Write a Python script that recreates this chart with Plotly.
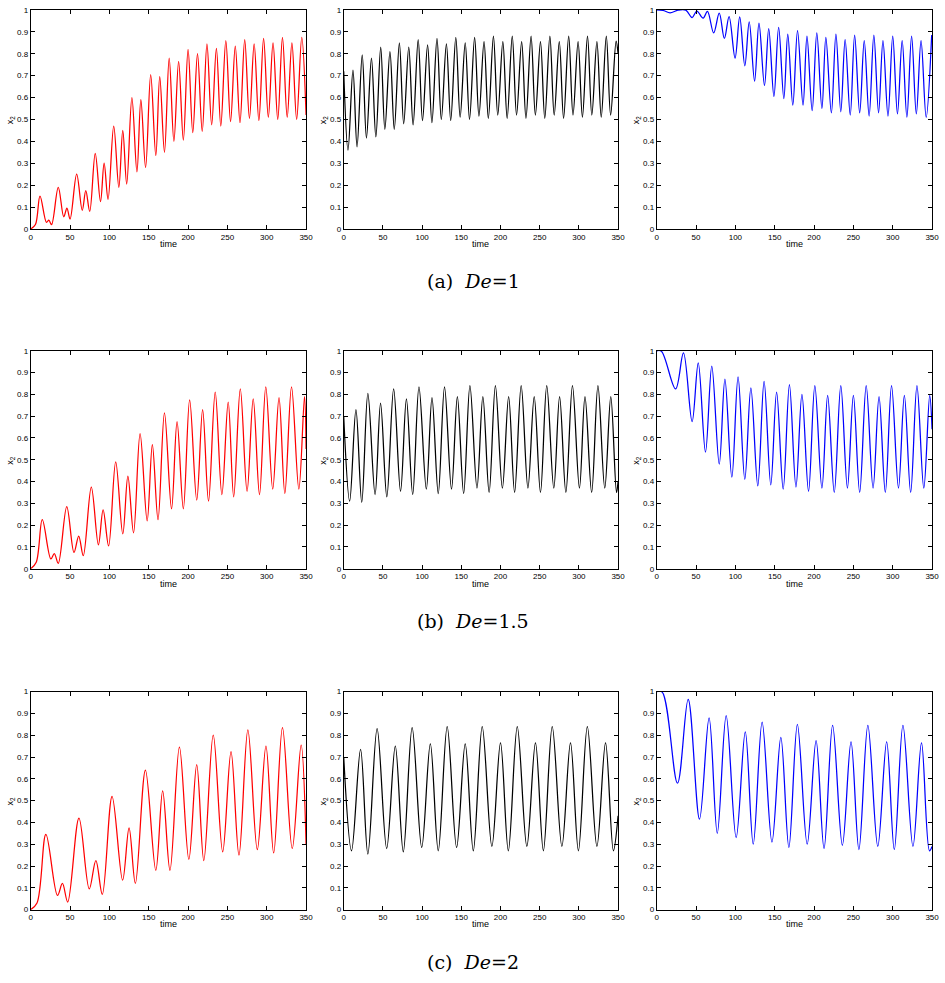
import plotly.graph_objects as go

# ---- x2(t) knots: successive turning points of each response curve ----
# De = 1
de1_red_t = [0, 6, 11.8, 20, 23, 26.5, 35, 42, 46, 50, 58.4, 65.5, 70, 75, 82, 88.7, 93.3, 98.3,
             105.5, 112, 117, 122, 128.6, 135, 140, 146, 152.5, 159, 164, 170, 176, 182, 188, 194,
             200, 206, 212, 218, 224, 230, 236, 241.6, 248, 254, 260, 266, 272, 278, 284, 290,
             296, 302, 308, 314, 320, 326, 332, 338, 344.5, 350]
de1_red_x2 = [0, 0.02, 0.15, 0.03, 0.04, 0.02, 0.19, 0.055, 0.095, 0.045, 0.25, 0.085, 0.175, 0.08,
              0.345, 0.125, 0.3, 0.135, 0.47, 0.19, 0.45, 0.205, 0.6, 0.26, 0.59, 0.28, 0.705, 0.335,
              0.695, 0.35, 0.78, 0.4, 0.765, 0.405, 0.82, 0.44, 0.8, 0.445, 0.845, 0.475, 0.825,
              0.47, 0.86, 0.49, 0.835, 0.485, 0.865, 0.505, 0.845, 0.495, 0.87, 0.51, 0.85, 0.5,
              0.875, 0.51, 0.85, 0.5, 0.875, 0.52]

de1_black_t = [0, 5.5, 11.8, 17, 23.6, 29, 35.4, 41, 47.2, 52.5, 59, 64.5, 71, 76.5, 83, 88.5, 95,
               100.5, 107, 112.5, 119, 124.5, 131, 136.5, 143, 148.5, 155, 160.5, 167, 172.5, 179,
               184.5, 191, 196.5, 203, 208.5, 215, 220.5, 227, 232.5, 239, 244.5, 251, 256.5, 263,
               268.5, 275, 280.5, 287, 292.5, 299, 304.5, 311, 316.5, 323, 328.5, 335, 340.5, 347.5,
               350]
de1_black_x2 = [0.72, 0.36, 0.725, 0.375, 0.795, 0.415, 0.78, 0.42, 0.83, 0.455, 0.81, 0.455, 0.85,
                0.48, 0.83, 0.475, 0.865, 0.495, 0.84, 0.485, 0.87, 0.5, 0.845, 0.495, 0.875, 0.51,
                0.85, 0.5, 0.875, 0.515, 0.855, 0.505, 0.88, 0.52, 0.855, 0.505, 0.88, 0.52, 0.855,
                0.505, 0.88, 0.52, 0.855, 0.505, 0.88, 0.52, 0.855, 0.505, 0.88, 0.52, 0.855, 0.51,
                0.88, 0.52, 0.855, 0.51, 0.88, 0.52, 0.858, 0.8]

de1_blue_t = [0, 8, 17, 27, 37, 45, 51, 59, 64.5, 72.4, 79.5, 86, 92, 99.6, 105.5, 112, 117.6, 124.4,
              130, 137, 142.4, 149, 155, 161.6, 166.6, 173, 179, 186, 191, 197.6, 203.5, 210, 215,
              222, 227.8, 234, 239.5, 246, 251.6, 258, 263.8, 270, 276, 282, 287.6, 294, 300, 306,
              312, 318, 324, 330, 336, 342.5, 349.5]
de1_blue_x2 = [1.0, 0.998, 0.987, 0.999, 0.999, 0.965, 0.995, 0.963, 0.993, 0.895, 0.985, 0.87,
               0.97, 0.78, 0.968, 0.745, 0.945, 0.675, 0.94, 0.655, 0.915, 0.605, 0.92, 0.595, 0.89,
               0.565, 0.905, 0.565, 0.88, 0.54, 0.895, 0.55, 0.875, 0.53, 0.89, 0.535, 0.865, 0.52,
               0.885, 0.53, 0.86, 0.515, 0.885, 0.53, 0.86, 0.515, 0.88, 0.525, 0.86, 0.51, 0.88,
               0.525, 0.86, 0.51, 0.885]

# De = 1.5
de15_red_t = [0, 7, 14.7, 25.6, 30, 35, 45.8, 55, 61, 66.8, 77, 86, 92, 99, 108, 117, 123.5, 130.7,
              139, 148, 154.6, 161.8, 170, 179, 186, 194, 202, 211, 218.5, 226, 234.5, 243, 251,
              258, 266.4, 275, 282.8, 290.8, 298.8, 307.6, 315.6, 323, 331.5, 340.8, 348, 350]
de15_red_x2 = [0, 0.03, 0.225, 0.045, 0.07, 0.025, 0.285, 0.075, 0.15, 0.06, 0.375, 0.11, 0.27,
               0.105, 0.49, 0.16, 0.425, 0.165, 0.62, 0.22, 0.57, 0.225, 0.715, 0.275, 0.675, 0.275,
               0.775, 0.315, 0.73, 0.31, 0.81, 0.34, 0.765, 0.33, 0.825, 0.355, 0.78, 0.34, 0.835,
               0.365, 0.785, 0.345, 0.835, 0.365, 0.79, 0.55]

de15_black_t = [0, 7.6, 15.6, 23, 30.8, 40, 47, 55, 63.7, 72.5, 80, 88, 96, 105.4, 112.6, 120.6,
                128.6, 137.5, 145, 153, 161, 170, 177.5, 185.5, 193.5, 202.4, 210.4, 218, 226.4,
                235, 243, 251, 259, 268, 275.4, 283.4, 291.8, 300.7, 307.8, 316.3, 324.3, 333,
                340.7, 348, 350]
de15_black_x2 = [0.7, 0.31, 0.73, 0.305, 0.805, 0.34, 0.76, 0.33, 0.825, 0.355, 0.78, 0.34, 0.835,
                 0.365, 0.785, 0.345, 0.835, 0.365, 0.79, 0.345, 0.84, 0.37, 0.79, 0.35, 0.84, 0.37,
                 0.79, 0.35, 0.84, 0.37, 0.79, 0.35, 0.84, 0.37, 0.79, 0.35, 0.84, 0.37, 0.79, 0.35,
                 0.84, 0.37, 0.79, 0.35, 0.4]

de15_blue_t = [0, 6, 24, 34, 45, 52.8, 62, 70, 79.5, 86.7, 95.5, 103.4, 112, 119.7, 128.5, 136.5,
               145, 152.4, 160.8, 168.7, 177, 184.6, 193, 201, 210, 217.3, 225.7, 234, 242.4, 250,
               258, 266.3, 275, 282.6, 290.6, 298.5, 307.3, 314.8, 322.8, 330.8, 339.5, 347, 350]
de15_blue_x2 = [1.0, 0.998, 0.825, 0.99, 0.675, 0.945, 0.535, 0.93, 0.48, 0.87, 0.42, 0.88, 0.41,
                0.83, 0.38, 0.86, 0.385, 0.81, 0.365, 0.845, 0.375, 0.8, 0.355, 0.84, 0.37, 0.795,
                0.35, 0.84, 0.37, 0.795, 0.35, 0.84, 0.37, 0.79, 0.35, 0.84, 0.37, 0.795, 0.35,
                0.84, 0.37, 0.795, 0.64]

# De = 2
de2_red_t = [0, 8, 19.3, 34, 40.3, 47, 61.3, 74.4, 82.8, 91, 103.4, 116.8, 125, 133, 145.8, 159,
             167.7, 177, 189, 201, 211, 220, 232, 244, 254.6, 264.7, 276, 288, 299, 308.8, 320,
             332.4, 343.7, 350]
de2_red_x2 = [0, 0.03, 0.345, 0.065, 0.12, 0.035, 0.42, 0.095, 0.225, 0.07, 0.52, 0.135, 0.375,
              0.12, 0.64, 0.18, 0.545, 0.18, 0.745, 0.23, 0.665, 0.225, 0.8, 0.265, 0.725, 0.25,
              0.825, 0.275, 0.75, 0.26, 0.835, 0.28, 0.755, 0.3]

de2_black_t = [0, 10, 21.5, 30.8, 42.6, 54.8, 65.8, 76, 87.3, 99.5, 110.5, 120.6, 132, 144, 155,
               165.3, 176.7, 189, 200, 210, 221.4, 233.6, 244.6, 254.7, 266, 278.3, 289.3, 299.4,
               310.8, 323, 334, 344, 350]
de2_black_x2 = [0.7, 0.27, 0.735, 0.255, 0.83, 0.28, 0.75, 0.265, 0.835, 0.285, 0.76, 0.27, 0.84,
                0.285, 0.76, 0.27, 0.84, 0.29, 0.765, 0.27, 0.84, 0.29, 0.765, 0.27, 0.84, 0.29,
                0.765, 0.27, 0.84, 0.29, 0.765, 0.27, 0.43]

de2_blue_t = [0, 7, 26.4, 40, 54.4, 66.6, 77, 88.3, 101, 112.6, 122.7, 134, 146.5, 157.8, 168,
              178.8, 191.3, 202.6, 212.7, 223.6, 236, 247, 257, 268.4, 281, 292.3, 302, 313,
              325.7, 336.6, 346.7, 350]
de2_blue_x2 = [1.0, 0.998, 0.58, 0.965, 0.415, 0.88, 0.35, 0.89, 0.33, 0.815, 0.3, 0.86, 0.31,
               0.79, 0.285, 0.85, 0.3, 0.775, 0.28, 0.845, 0.295, 0.77, 0.275, 0.845, 0.29, 0.77,
               0.275, 0.845, 0.29, 0.765, 0.27, 0.29]

captions = ["(a)  <i>De</i>=1", "(b)  <i>De</i>=1.5", "(c)  <i>De</i>=2"]
x_title = "time"
y_title = "x<sub>2</sub>"
x_ticks = [0, 50, 100, 150, 200, 250, 300, 350]
y_ticks = [0, 0.1, 0.2, 0.3, 0.4, 0.5, 0.6, 0.7, 0.8, 0.9, 1]
y_tick_text = ["0", "0.1", "0.2", "0.3", "0.4", "0.5", "0.6", "0.7", "0.8", "0.9", "1"]

rows = [
    [(de1_red_t, de1_red_x2), (de1_black_t, de1_black_x2), (de1_blue_t, de1_blue_x2)],
    [(de15_red_t, de15_red_x2), (de15_black_t, de15_black_x2), (de15_blue_t, de15_blue_x2)],
    [(de2_red_t, de2_red_x2), (de2_black_t, de2_black_x2), (de2_blue_t, de2_blue_x2)],
]
colors = ["#ff0000", "#000000", "#0000ff"]

W, H = 945, 983
col_px = [(29, 307), (345, 622), (661, 939)]
row_px = [(6, 227), (350, 570), (694, 914)]
caption_y_px = [280, 623, 967]

sans = "Liberation Sans, Arial, Helvetica, sans-serif"
axis_font = dict(family=sans, size=8, color="black")

fig = go.Figure()
layout = dict(
    width=W, height=H, margin=dict(l=0, r=0, t=0, b=0),
    paper_bgcolor="white", plot_bgcolor="white", showlegend=False,
    font=dict(family=sans, size=8, color="black"),
)
annotations = []

k = 0
for r, row in enumerate(rows):
    for c, (t, v) in enumerate(row):
        k += 1
        xa = "x" if k == 1 else f"x{k}"
        ya = "y" if k == 1 else f"y{k}"
        fig.add_trace(go.Scatter(
            x=t, y=v, mode="lines", xaxis=xa, yaxis=ya,
            line=dict(color=colors[c], width=1.25, shape="spline", smoothing=1.0),
            hoverinfo="skip",
        ))
        x0, x1 = col_px[c]
        y0, y1 = row_px[r]
        common = dict(
            showgrid=False, zeroline=False, showline=True, linecolor="black", linewidth=1,
            mirror="ticks", ticks="inside", ticklen=4, tickcolor="black", tickwidth=1,
            tickfont=axis_font,
        )
        layout["xaxis" if k == 1 else f"xaxis{k}"] = dict(
            domain=[x0 / W, x1 / W], anchor=ya, range=[0, 350], tickvals=x_ticks, **common,
        )
        layout["yaxis" if k == 1 else f"yaxis{k}"] = dict(
            domain=[1 - y1 / H, 1 - y0 / H], anchor=xa, range=[0, 1],
            tickvals=y_ticks, ticktext=y_tick_text, **common,
        )
        # axis titles
        annotations.append(dict(
            text=x_title, xref="paper", yref="paper",
            x=(x0 + x1) / 2 / W, y=1 - (y1 + 15) / H,
            xanchor="center", yanchor="middle", showarrow=False,
            font=dict(family=sans, size=9, color="black"),
        ))
        annotations.append(dict(
            text=y_title, xref="paper", yref="paper",
            x=(x0 - 20) / W, y=1 - (y0 + y1) / 2 / H, textangle=-90,
            xanchor="center", yanchor="middle", showarrow=False,
            font=dict(family=sans, size=9, color="black"),
        ))

for cap, ypx in zip(captions, caption_y_px):
    annotations.append(dict(
        text=cap, xref="paper", yref="paper", x=476 / W, y=1 - ypx / H,
        xanchor="center", yanchor="middle", showarrow=False,
        font=dict(family="DejaVu Serif, Liberation Serif, serif", size=19, color="black"),
    ))
layout["annotations"] = annotations

fig.update_layout(**layout)
fig.write_html("out.html")
